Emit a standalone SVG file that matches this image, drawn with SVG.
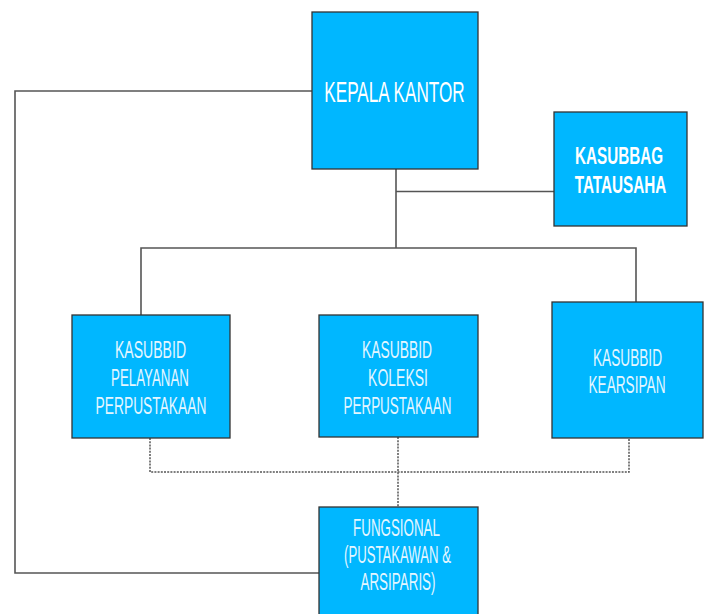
<svg xmlns="http://www.w3.org/2000/svg" width="706" height="614" viewBox="0 0 706 614">
<style>
.box{fill:#00b7ff;stroke:#333;stroke-width:1.3}
.ln{fill:none;stroke:#555;stroke-width:1.6}
.dt{fill:none;stroke:#555;stroke-width:1.5;stroke-dasharray:2 1.2}
.t{font-family:"Liberation Sans",Arial,sans-serif;text-anchor:middle;fill:#e4f6ff;font-size:23.5px}
.b{font-family:"Liberation Sans",Arial,sans-serif;text-anchor:middle;fill:#fff;font-weight:bold;font-size:23.5px}
.k{font-family:"Liberation Sans",Arial,sans-serif;text-anchor:middle;fill:#fff;font-size:30px}
</style>
<rect width="706" height="614" fill="#fff"/>
<g id="connectors">
<path class="ln" d="M312,91 H15 V573 H319"/>
<path class="ln" d="M396,169 V248"/>
<path class="ln" d="M396,191.5 H554"/>
<path class="ln" d="M141,315 V248 H636 V302"/>
<path class="dt" d="M150,438 V472 H629 V438"/>
<path class="dt" d="M398,437 V507"/>
</g>
<g id="kepala">
<rect class="box" x="312" y="12" width="166" height="157"/>
<text class="k" transform="translate(394.5,102) scale(0.572,1)">KEPALA KANTOR</text>
</g>
<g id="kasubbag">
<rect class="box" x="554" y="112" width="133" height="114"/>
<text class="b" transform="translate(619,163.5) scale(0.648,1)">KASUBBAG</text>
<text class="b" transform="translate(620.5,193) scale(0.65,1)">TATAUSAHA</text>
</g>
<g id="pelayanan">
<rect class="box" x="72" y="315" width="158" height="123"/>
<text class="t" transform="translate(150.5,357.5) scale(0.598,1)">KASUBBID</text>
<text class="t" transform="translate(150,385.5) scale(0.567,1)">PELAYANAN</text>
<text class="t" transform="translate(151,413.5) scale(0.587,1)">PERPUSTAKAAN</text>
</g>
<g id="koleksi">
<rect class="box" x="319" y="315" width="159" height="122"/>
<text class="t" transform="translate(397,357.5) scale(0.589,1)">KASUBBID</text>
<text class="t" transform="translate(398,385.5) scale(0.596,1)">KOLEKSI</text>
<text class="t" transform="translate(397.5,413.5) scale(0.572,1)">PERPUSTAKAAN</text>
</g>
<g id="kearsipan">
<rect class="box" x="552" y="302" width="151" height="136"/>
<text class="t" transform="translate(627.5,365.5) scale(0.581,1)">KASUBBID</text>
<text class="t" transform="translate(627,392.5) scale(0.58,1)">KEARSIPAN</text>
</g>
<g id="fungsional">
<rect class="box" x="319" y="507" width="159" height="120"/>
<text class="t" transform="translate(396.5,535.5) scale(0.569,1)">FUNGSIONAL</text>
<text class="t" transform="translate(397.5,562.5) scale(0.56,1)">(PUSTAKAWAN &amp;</text>
<text class="t" transform="translate(398,589.5) scale(0.571,1)">ARSIPARIS)</text>
</g>
</svg>
